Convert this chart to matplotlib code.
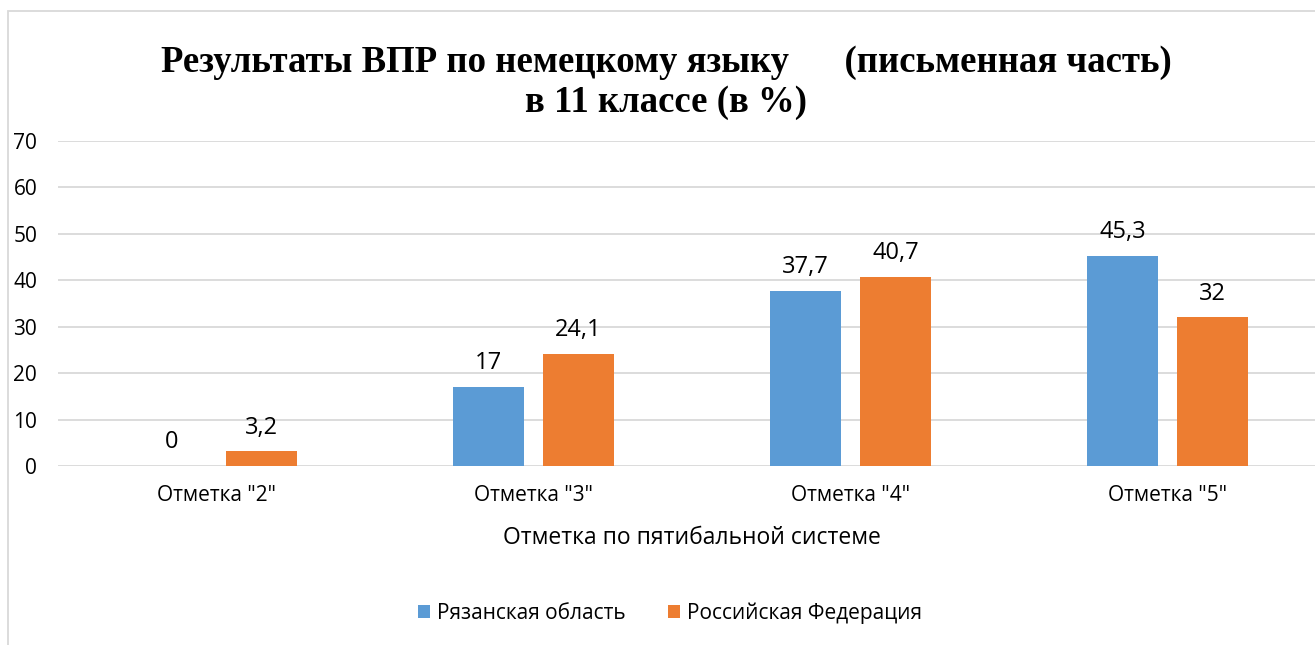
import matplotlib.pyplot as plt
import matplotlib.patches as patches
import numpy as np

# Данные
categories = ['Отметка "2"', 'Отметка "3"', 'Отметка "4"', 'Отметка "5"']
ryazan = [0, 17, 37.7, 45.3]
russia = [3.2, 24.1, 40.7, 32]
series_names = ['Рязанская область', 'Российская Федерация']
yticks = [0, 10, 20, 30, 40, 50, 60, 70]

blue = '#5B9BD5'
orange = '#ED7D31'
sans = ['Open Sans', 'DejaVu Sans']
serif = ['Liberation Serif', 'DejaVu Serif']

fig = plt.figure(figsize=(13.15, 6.45), dpi=100)
ax = fig.add_axes([58 / 1315, 179 / 645, 1268 / 1315, 325 / 645])

x = np.arange(len(categories))
w = 0.224
off = 0.142
b1 = ax.bar(x - off, ryazan, w, color=blue, label=series_names[0], zorder=3)
b2 = ax.bar(x + off, russia, w, color=orange, label=series_names[1], zorder=3)

# подписи значений
for bars, vals in ((b1, ryazan), (b2, russia)):
    for rect, v in zip(bars, vals):
        txt = f'{v:g}'.replace('.', ',')
        ax.annotate(txt, (rect.get_x() + rect.get_width() / 2, v),
                    xytext=(0, 17), textcoords='offset points',
                    ha='center', va='center', fontsize=17, family=sans)

ax.set_xlim(-0.5, 3.5)
ax.set_ylim(0, 70)
ax.set_yticks(yticks)
ax.set_yticklabels([str(t) for t in yticks], fontsize=15, family=sans)
ax.set_xticks(x)
ax.set_xticklabels(categories, fontsize=15, family=sans)
ax.tick_params(axis='y', length=0, pad=15)
ax.tick_params(axis='x', length=0, pad=14)
ax.grid(axis='y', color='#d9d9d9', linewidth=1.3, zorder=0)
for s in ax.spines.values():
    s.set_visible(False)

ax.set_xlabel('Отметка по пятибальной системе', fontsize=16.5, family=sans, labelpad=14)

fig.text(666 / 1315, 1 - 62 / 645, 'Результаты ВПР по немецкому языку      (письменная часть)',
         ha='center', va='center', fontsize=26.5, fontweight='bold', family=serif)
fig.text(666 / 1315, 1 - 102 / 645, 'в 11 классе (в %)',
         ha='center', va='center', fontsize=26.5, fontweight='bold', family=serif)

leg = fig.legend(loc='center', bbox_to_anchor=(670 / 1315, 1 - 613 / 645), ncol=2,
                 frameon=False, prop={'family': sans, 'size': 15},
                 handlelength=0.6, handleheight=0.6, handletextpad=0.35, columnspacing=2.0)

# рамка диаграммы
frame = patches.Rectangle((8 / 1315, -0.1), 1.2, 1.1 - 11 / 645, transform=fig.transFigure,
                          fill=False, edgecolor='#d9d9d9', linewidth=1.3)
fig.patches.append(frame)

plt.savefig('out.png', dpi=100)
